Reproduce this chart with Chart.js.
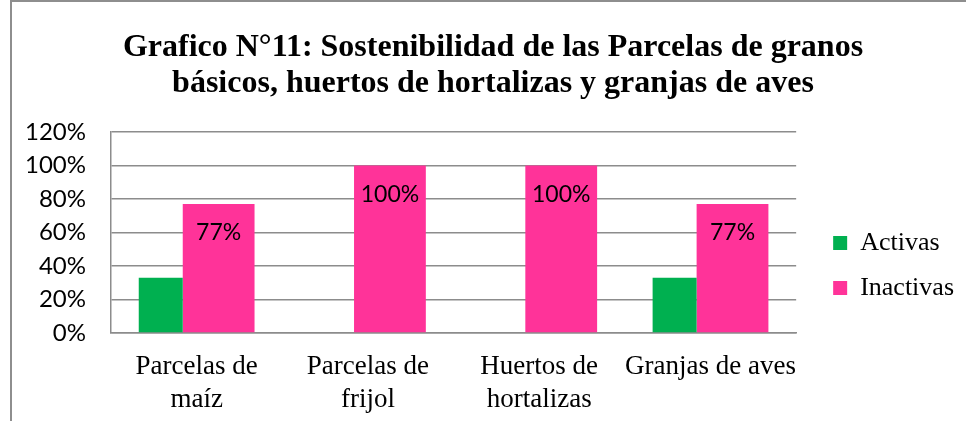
<!DOCTYPE html>
<html lang="es">
<head>
<meta charset="UTF-8">
<title>Grafico N°11</title>
<script src="https://cdn.jsdelivr.net/npm/chart.js"></script>
<style>
  html, body { margin: 0; padding: 0; background: #fff; overflow: hidden; }
  #wrap { position: relative; width: 966px; height: 421px; overflow: hidden; }
  #frame { position: absolute; left: 10px; top: 0; width: 975px; height: 460px; border: 2px solid #8e8e8e; box-sizing: border-box; }
  #box { position: absolute; left: 0; top: 0; width: 990px; height: 421px; }
</style>
</head>
<body>
<div id="wrap">
  <div id="frame"></div>
  <div id="box"><canvas id="sostChart"></canvas></div>
</div>

<script>
// datos
const categorias = [['Parcelas de', 'maíz'], ['Parcelas de', 'frijol'], ['Huertos de', 'hortalizas'], 'Granjas de aves'];
const activas = [33, 0, 0, 33];
const inactivas = [77, 100, 100, 77];
const marcasY = [0, 20, 40, 60, 80, 100, 120];
const titulo = ['Grafico N°11: Sostenibilidad de las Parcelas de granos', 'básicos, huertos de hortalizas y granjas de aves'];

const gris = '#8c8c8c';

// las barras verdes van pegadas a las rosadas (como en Excel)
const juntarBarras = {
    id: 'juntarBarras',
    afterDatasetsUpdate(chart) {
        const x = chart.scales.x;
        const verdes = chart.getDatasetMeta(0).data;
        const rosas = chart.getDatasetMeta(1).data;
        verdes.forEach((v, i) => {
            const r = rosas[i];
            const centro = x.getPixelForValue(i);
            const izq = centro - (v.width + r.width) / 2;
            v.x = izq + v.width / 2;
            r.x = izq + v.width + r.width / 2;
        });
    }
};

// leyenda mas abajo y a la derecha, titulo centrado en el marco
const ajustarCajas = {
    id: 'ajustarCajas',
    afterLayout(chart) {
        const l = chart.legend;
        l.left += 18; l.right += 18;
        l.top += 58; l.bottom += 58;
        const t = chart.titleBlock;
        t.left += 20; t.right += 20;
    }
};

// etiquetas de valor en las barras de Inactivas
const etiquetas = {
    id: 'etiquetas',
    afterDatasetsDraw(chart) {
        const ctx = chart.ctx;
        const meta = chart.getDatasetMeta(1);
        ctx.save();
        ctx.font = '23px Lato';
        ctx.fillStyle = '#000';
        ctx.textAlign = 'center';
        ctx.textBaseline = 'middle';
        meta.data.forEach((bar, i) => {
            ctx.fillText(inactivas[i] + '%', bar.x, bar.y + 29);
        });
        ctx.restore();
    }
};

const ctx = document.getElementById('sostChart').getContext('2d');
const chart = new Chart(ctx, {
    type: 'bar',
    data: {
        labels: categorias,
        datasets: [{
            label: 'Activas',
            data: activas,
            backgroundColor: '#00B050',
            borderWidth: 0,
            barPercentage: 0.76
        }, {
            label: 'Inactivas',
            data: inactivas,
            backgroundColor: '#FF3399',
            borderWidth: 0,
            barPercentage: 1.24
        }]
    },
    options: {
        responsive: true,
        maintainAspectRatio: false,
        animation: false,
        events: [],
        datasets: { bar: { categoryPercentage: 0.676 } },
        layout: { padding: { left: 0, right: 44, bottom: 6 } },
        plugins: {
            title: {
                display: true,
                text: titulo,
                color: '#000',
                font: { family: 'Liberation Serif', size: 32, weight: 'bold', lineHeight: 1.125 },
                padding: { top: 30, bottom: 30 }
            },
            legend: {
                position: 'right',
                labels: {
                    color: '#000',
                    font: { family: 'Liberation Serif', size: 26 },
                    boxWidth: 14,
                    boxHeight: 14,
                    padding: 19
                }
            },
            tooltip: { enabled: false }
        },
        scales: {
            x: {
                grid: { display: false },
                border: { display: true, color: gris, width: 1.5 },
                afterFit: s => { s.height = 82; },
                ticks: {
                    color: '#000',
                    font: { family: 'Liberation Serif', size: 27, lineHeight: 1.2 },
                    padding: 10,
                    maxRotation: 0,
                    autoSkip: false
                }
            },
            y: {
                min: 0,
                max: 120,
                afterBuildTicks: s => { s.ticks = marcasY.map(v => ({ value: v })); },
                afterFit: s => { s.width = 111; },
                grid: { color: gris, lineWidth: 1.5, drawTicks: false },
                border: { display: true, color: gris, width: 1.5 },
                ticks: {
                    color: '#000',
                    font: { family: 'Lato', size: 24 },
                    padding: 25,
                    callback: v => v + '%'
                }
            }
        }
    },
    plugins: [juntarBarras, ajustarCajas, etiquetas]
});
</script>
</body>
</html>
